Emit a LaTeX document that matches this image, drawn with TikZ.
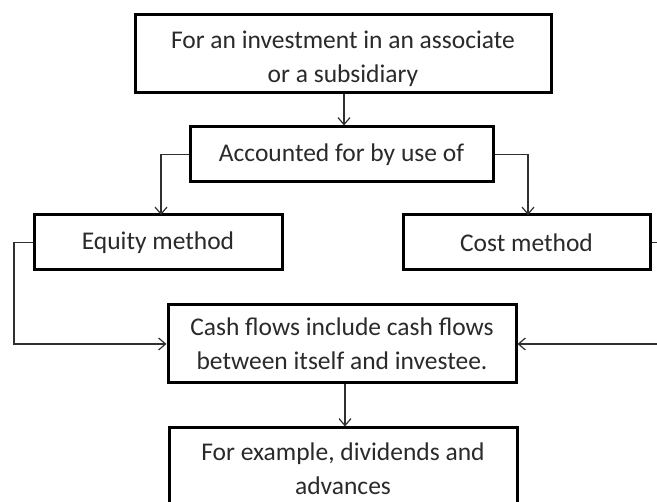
\documentclass[tikz,border=0pt]{standalone}
\usepackage{fontspec}
\setmainfont{Carlito}
\usetikzlibrary{arrows.meta}
\definecolor{ink}{HTML}{2A2A2A}
\definecolor{wire}{HTML}{303030}
\begin{document}
\begin{tikzpicture}[x=1pt,y=-1pt,
  box/.style={draw=black, line width=3pt, fill=white, align=center,
    text=ink, font=\fontsize{25.5}{34}\selectfont, inner sep=0pt},
  link/.style={draw=wire, line width=1.3pt,
    -{Straight Barb[length=7pt,width=12pt,line width=1.2pt]}},
  wireline/.style={draw=wire, line width=1.3pt}]
\useasboundingbox (0,0) rectangle (657,502);
\clip (0,0) rectangle (657,502);

% boxes
\node[box, minimum width=416pt, minimum height=78pt] (top) at (343,54)
  {\rule{0pt}{27pt}For an investment in an associate\\or a subsidiary};
\node[box, minimum width=303pt, minimum height=55pt] (use) at (341.5,154.5)
  {Accounted for by use of};
\node[box, minimum width=248pt, minimum height=55pt] (eq) at (158,242.5)
  {Equity method};
\node[box, minimum width=247pt, minimum height=55pt] (cost) at (526.5,242.5)
  {Cost method};
\node[box, minimum width=348pt, minimum height=78pt] (cash) at (342,344)
  {Cash flows include cash flows\\between itself and investee.};
\node[box, minimum width=348pt, minimum height=82pt] (ex) at (343,469)
  {For example, dividends and\\advances};

% routing points
\coordinate (eqin) at (161,215);
\coordinate (costin) at (528,215);
\coordinate (lbus) at (14,0);
\coordinate (rbus) at (672,0);

% connectors
\draw[link] (top.south -| 344,0) -- (use.north -| 344,0);
\draw[link] (use.west) -| (eqin);
\draw[link] (use.east) -| (costin);
\draw[link] (eq.west) -| (lbus |- cash.west) -- (cash.west);
\draw[wireline] (cost.east) -| (rbus |- cash.east);
\draw[link] (rbus |- cash.east) -- (cash.east);
\draw[link] (cash.south -| 345,0) -- (ex.north -| 345,0);
\end{tikzpicture}
\end{document}
